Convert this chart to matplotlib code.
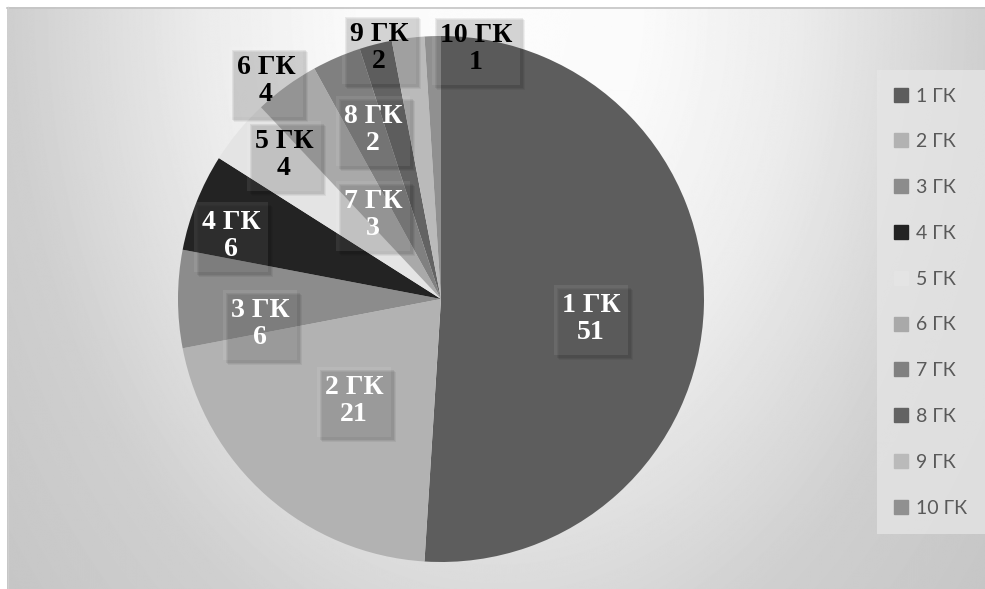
import numpy as np
import matplotlib.pyplot as plt
from matplotlib.lines import Line2D
from matplotlib.patches import Rectangle

# --- data ---
categories = ["1 ГК", "2 ГК", "3 ГК", "4 ГК", "5 ГК", "6 ГК", "7 ГК", "8 ГК", "9 ГК", "10 ГК"]
values = [51, 21, 6, 6, 4, 4, 3, 2, 2, 1]

slice_colors = ["#5d5d5d", "#b2b2b2", "#8c8c8c", "#232323", "#e4e4e4",
                "#a9a9a9", "#808080", "#636363", "#bababa", "#909090"]
label_colors = ["white", "white", "white", "white", "black",
                "black", "white", "white", "black", "black"]
# label centres, in pixels relative to the pie centre (x right, y up)
label_pos = [(150, -21), (-87, -103), (-181, -26), (-210, 62), (-157, 143),
             (-175, 217), (-68, 83), (-68, 168), (-62, 250), (35, 249)]

W, H = 985, 589
fig = plt.figure(figsize=(W / 100, H / 100), dpi=100)
fig.patch.set_facecolor("white")

# --- background with soft radial shading ---
bg = fig.add_axes([0, 0, 1, 1])
bg.set_xlim(0, W)
bg.set_ylim(H, 0)
bg.axis("off")
yy, xx = np.mgrid[0:H, 0:W]
r = np.sqrt(((xx - 496) / 490.0) ** 2 + (yy / 700.0) ** 2)
shade = np.interp(r, [0, 0.3, 0.6, 1.0, 1.3, 2.0], [252, 250, 236, 207, 198, 196]) / 255.0
bg.imshow(shade, cmap="gray", vmin=0, vmax=1, extent=(7, W, H, 7),
          interpolation="bilinear", zorder=0)
bg.plot([7, W], [7.5, 7.5], color="#c4c4c4", lw=1.2, zorder=1)
bg.plot([7.5, 7.5], [7, H], color="#cfcfcf", lw=1.0, zorder=1)

# --- pie ---
cx, cy, R = 441, 299, 263
half = 300
ax = fig.add_axes([(cx - half) / W, (H - cy - half) / H, 2 * half / W, 2 * half / H])
ax.axis("off")
ax.patch.set_alpha(0)

ax.pie(values, colors=slice_colors, startangle=90, counterclock=False,
       radius=R, center=(0, 0), frame=False,
       wedgeprops=dict(linewidth=0))
ax.set_xlim(-half, half)
ax.set_ylim(-half, half)
ax.set_aspect("equal")

# data labels: category and value in a translucent box with a soft shadow
renderer = fig.canvas.get_renderer()
for cat, val, (lx, ly), tc in zip(categories, values, label_pos, label_colors):
    t = ax.text(lx, ly + 1, f"{cat}\n{val}", ha="center", va="center",
                fontsize=20, fontweight="bold", family="Liberation Serif",
                color=tc, linespacing=1.12, zorder=6)
    bw = max(73, t.get_window_extent(renderer).width + 16)
    bh = 70
    for k, a in [(5, 0.05), (4, 0.06), (3, 0.07)]:
        ax.add_patch(Rectangle((lx - bw / 2 + k, ly - bh / 2 - k), bw, bh,
                               facecolor="black", alpha=a, edgecolor="none", zorder=4))
    ax.add_patch(Rectangle((lx - bw / 2, ly - bh / 2), bw, bh,
                           facecolor="white", alpha=0.08, edgecolor="none", zorder=5))

# --- legend ---
handles = [Line2D([], [], marker="s", linestyle="none", markersize=9.5,
                  markerfacecolor=c, markeredgecolor=c) for c in slice_colors]
leg = fig.legend(handles, categories, loc="upper left",
                 bbox_to_anchor=(877 / W, 1 - 70 / H), borderaxespad=0,
                 prop=dict(family="Lato", size=14), labelcolor="#595959",
                 frameon=True, fancybox=False, facecolor="#e6e6e6",
                 edgecolor="none", framealpha=0.75,
                 labelspacing=1.48, borderpad=0.9,
                 handlelength=0.7, handletextpad=0.4)

fig.savefig("out.png", dpi=100)
